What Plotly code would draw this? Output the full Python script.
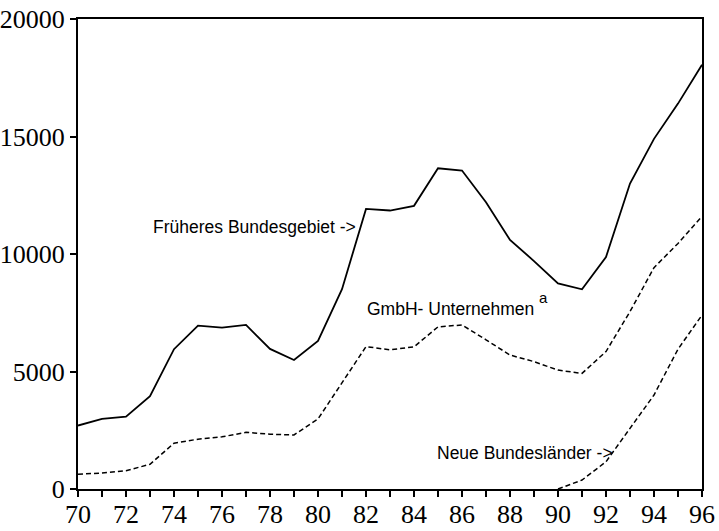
import plotly.graph_objects as go

years = list(range(70, 97))
frueheres = [2700, 2980, 3080, 3950, 5950, 6950, 6870, 6980, 5960, 5490, 6300, 8500,
             11920, 11850, 12050, 13650, 13550, 12200, 10600, 9700, 8750, 8500,
             9870, 13000, 14900, 16400, 18050]
gmbh = [630, 680, 780, 1050, 1950, 2120, 2220, 2410, 2330, 2300, 2980, 4500,
        6060, 5920, 6050, 6900, 6980, 6350, 5700, 5420, 5060, 4920,
        5850, 7550, 9420, 10450, 11600]
neue_years = [90, 91, 92, 93, 94, 95, 96]
neue = [0, 380, 1160, 2580, 4000, 5950, 7400]

y_tickvals = [0, 5000, 10000, 15000, 20000]
y_ticktext = ["0", "5000", "10000", "15000", "20000"]

label_frueheres = "Früheres Bundesgebiet ->"
label_gmbh = "GmbH- Unternehmen"
label_sup = "a"
label_neue = "Neue Bundesländer ->"

fig = go.Figure()
fig.add_trace(go.Scatter(x=years, y=frueheres, mode="lines",
                         line=dict(color="black", width=1.8), showlegend=False))
fig.add_trace(go.Scatter(x=years, y=gmbh, mode="lines",
                         line=dict(color="black", width=1.5, dash="5px,3px"), showlegend=False))
fig.add_trace(go.Scatter(x=neue_years, y=neue, mode="lines",
                         line=dict(color="black", width=1.5, dash="5px,3px"), showlegend=False))

ann_font = dict(family="Liberation Sans, Arial, sans-serif", size=17.5, color="black")
fig.add_annotation(x=81.67, y=11150, text=label_frueheres, showarrow=False,
                   xanchor="right", yanchor="middle", font=ann_font)
fig.add_annotation(x=81.96, y=7660, text=label_gmbh, showarrow=False,
                   xanchor="left", yanchor="middle", font=ann_font)
fig.add_annotation(x=89.375, y=8170, text=label_sup, showarrow=False,
                   xanchor="center", yanchor="middle",
                   font=dict(family="Liberation Sans, Arial, sans-serif", size=15, color="black"))
fig.add_annotation(x=92.375, y=1530, text=label_neue, showarrow=False,
                   xanchor="right", yanchor="middle", font=ann_font)

tick_font = dict(family="Liberation Serif, Times New Roman, serif", size=26, color="black")
fig.update_xaxes(range=[70, 96], tickmode="linear", tick0=70, dtick=2, automargin=False,
                 showline=True, linecolor="black", linewidth=2, mirror=True,
                 ticks="outside", ticklen=6, tickwidth=1.5, tickcolor="black",
                 ticklabelstandoff=-5,
                 minor=dict(dtick=1, ticks="outside", ticklen=6, tickwidth=1.5, tickcolor="black"),
                 showgrid=False, zeroline=False, tickfont=tick_font)
fig.update_yaxes(range=[0, 20000], tickmode="array", tickvals=y_tickvals, ticktext=y_ticktext,
                 automargin=False,
                 showline=True, linecolor="black", linewidth=2, mirror=True,
                 ticks="outside", ticklen=6, tickwidth=1.5, tickcolor="black",
                 showgrid=False, zeroline=False, tickfont=tick_font)
fig.update_layout(width=719, height=531, margin=dict(l=78, r=17, t=19, b=42),
                  plot_bgcolor="white", paper_bgcolor="white")
fig.write_html("out.html", config={"displayModeBar": False},
               post_script="document.body.style.margin='0px';")
